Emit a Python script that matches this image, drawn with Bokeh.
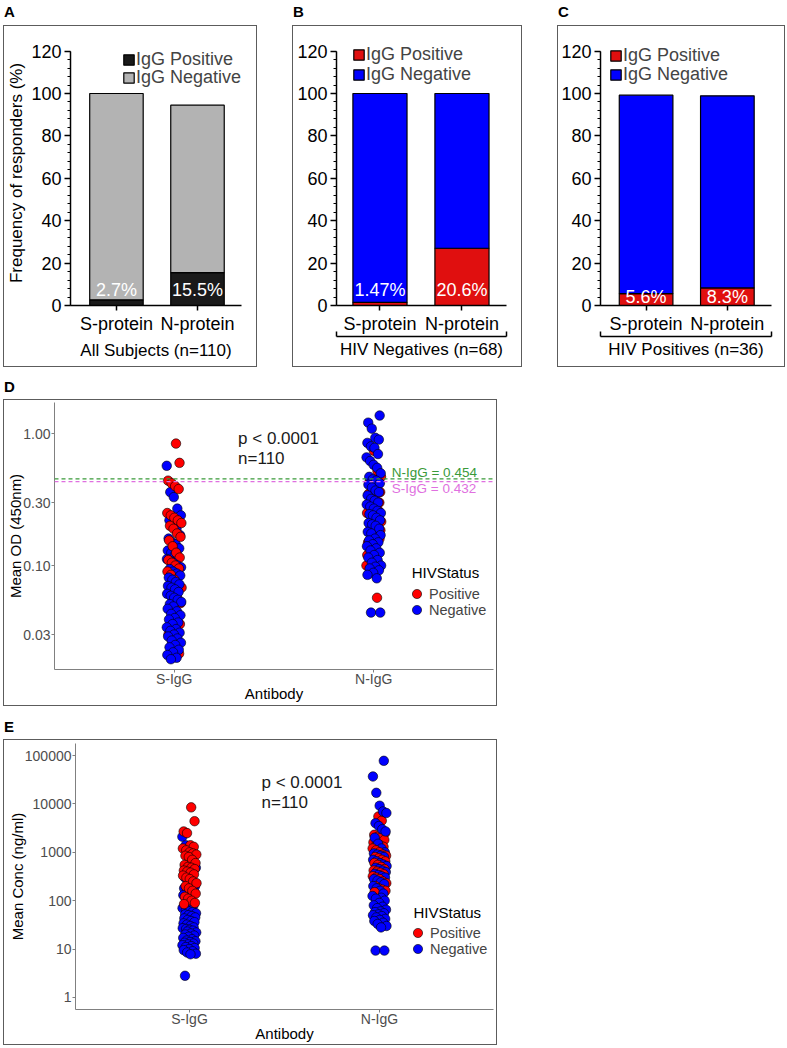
from bokeh.plotting import figure
from bokeh.models import (FixedTicker, SingleIntervalTicker, Legend, LegendItem, Label,
                          Span, LinearAxis, Div, ColumnDataSource, Range1d, Spacer)
from bokeh.layouts import row, column
from bokeh.core.properties import value
from bokeh.embed import file_html
from bokeh.resources import INLINE

FONT = "Liberation Sans"

# ---------------- data ----------------
proteins = ["S-protein", "N-protein"]
A_pos = [2.7, 15.5]
A_neg = [97.3, 79.0]
A_lbl = ["2.7%", "15.5%"]
B_pos = [1.47, 27.0]
B_neg = [98.53, 73.0]
B_lbl = ["1.47%", "20.6%"]
C_pos = [5.6, 8.3]
C_neg = [93.6, 90.6]
C_lbl = ["5.6%", "8.3%"]

antibodies = ["S-IgG", "N-IgG"]
# Panel D: mean OD (450nm)
D_S_pos = [0.84, 0.60, 0.44, 0.42, 0.40, 0.38, 0.25, 0.24, 0.23, 0.22, 0.21, 0.20, 0.19, 0.175,
           0.165, 0.155, 0.14, 0.125, 0.115, 0.11, 0.105, 0.10, 0.095, 0.09, 0.085, 0.078, 0.072,
           0.068, 0.064, 0.06, 0.057, 0.052, 0.048, 0.045, 0.04, 0.036, 0.03, 0.027, 0.024, 0.0215]
D_S_neg = [0.57, 0.36, 0.33, 0.27, 0.24, 0.22, 0.2, 0.19, 0.17, 0.16, 0.15, 0.145, 0.135, 0.13,
           0.125, 0.12, 0.115, 0.112, 0.108, 0.104, 0.1, 0.097, 0.094, 0.09, 0.087, 0.084, 0.081,
           0.078, 0.075, 0.072, 0.07, 0.068, 0.066, 0.063, 0.061, 0.059, 0.057, 0.055, 0.053,
           0.051, 0.049, 0.047, 0.045, 0.043, 0.042, 0.04, 0.039, 0.037, 0.036, 0.034, 0.033,
           0.032, 0.031, 0.03, 0.029, 0.028, 0.027, 0.026, 0.025, 0.024, 0.023, 0.022, 0.021,
           0.02, 0.0195]
D_N_pos = [0.74, 0.52, 0.47, 0.43, 0.40, 0.38, 0.36, 0.35, 0.33, 0.31, 0.30, 0.29, 0.28, 0.27,
           0.26, 0.25, 0.24, 0.23, 0.22, 0.215, 0.21, 0.2, 0.19, 0.185, 0.18, 0.17, 0.165, 0.16,
           0.15, 0.14, 0.13, 0.125, 0.12, 0.115, 0.11, 0.105, 0.10, 0.095, 0.09, 0.057]
D_N_neg = [1.37, 1.21, 1.09, 0.93, 0.9, 0.85, 0.8, 0.78, 0.7, 0.66, 0.62, 0.58, 0.55, 0.5, 0.47,
           0.45, 0.44, 0.42, 0.41, 0.39, 0.37, 0.36, 0.34, 0.32, 0.31, 0.3, 0.29, 0.28, 0.27,
           0.26, 0.25, 0.245, 0.24, 0.23, 0.22, 0.21, 0.205, 0.2, 0.19, 0.18, 0.175, 0.17, 0.16,
           0.155, 0.15, 0.145, 0.14, 0.135, 0.13, 0.125, 0.12, 0.115, 0.11, 0.105, 0.1, 0.098,
           0.095, 0.092, 0.088, 0.085, 0.08, 0.044, 0.044]
D_cut_N = 0.454
D_cut_S = 0.432

# Panel E: mean concentration (ng/ml)
E_S_pos = [8500, 4400, 2700, 2500, 1400, 1300, 1200, 1100, 1000, 950, 900, 850, 800, 700, 600,
           550, 500, 480, 450, 420, 400, 380, 350, 330, 300, 280, 250, 230, 200, 180, 160, 140,
           120, 110, 100, 90, 85]
E_S_neg = [2100, 1400, 520, 500, 480, 300, 260, 240, 200, 180, 170, 160, 150, 130, 120, 100, 80,
           70, 65, 60, 58, 55, 52, 50, 48, 45, 43, 40, 38, 36, 34, 32, 30, 28, 27, 26, 25, 24,
           23, 22, 21, 20, 19, 18, 17, 16, 15, 14.5, 14, 13.5, 13, 12.5, 12, 11.5, 11, 10.5, 10,
           9.5, 9, 8.5, 8, 7.8, 2.8]
E_N_pos = [5500, 4500, 2500, 2300, 2100, 2000, 1800, 1600, 1500, 1400, 1300, 1200, 1100, 1000,
           900, 850, 800, 750, 700, 650, 600, 550, 500, 450, 420, 400, 380, 350, 320, 300, 280,
           250, 230, 200, 180, 170, 160, 150, 45]
E_N_neg = [78000, 37000, 17000, 9200, 7000, 6500, 4000, 3500, 3000, 2700, 2000, 1500, 1200, 1000,
           950, 900, 850, 800, 700, 650, 600, 560, 520, 480, 450, 420, 390, 360, 340, 320, 300,
           280, 260, 240, 220, 200, 180, 160, 140, 125, 115, 110, 100, 90, 80, 75, 70, 65, 60,
           58, 55, 52, 50, 48, 45, 42, 40, 38, 35, 33, 30, 28, 9.3, 9.3]

BOX = {"border": "1.5px solid #5c5c5c"}
RED = "#ff0000"
BLUE = "#0000ff"


def panel_label(t, w, h, top):
    return Div(text=f'<div style="font: bold 15px {FONT}, Arial, sans-serif; line-height:15px; '
                    f'position:relative; top:{top}px; left:1px; color:black;">{t}</div>',
               width=w, height=h, margin=0)


def one_legend(label, rend, xy, gw, gh, lh, size, idx=None):
    item = LegendItem(label=label, renderers=[rend]) if idx is None else \
        LegendItem(label=label, renderers=[rend], index=idx)
    return Legend(items=[item], location=xy, background_fill_alpha=0,
                  border_line_color=None, padding=0, margin=0, spacing=0,
                  glyph_width=gw, glyph_height=gh, label_height=lh, label_standoff=1,
                  label_text_font=FONT, label_text_font_size=size)


def bar_panel(pos, neg, lbls, pos_col, neg_col, w, h, left, right, xstart, xend,
              leg_x, leg_y, lbl_y, ylabel=None, xlabel=None, bracket=None):
    p = figure(width=w, height=h, x_range=Range1d(xstart, xend), y_range=Range1d(0, 125),
               output_backend="svg", toolbar_location=None,
               min_border_left=left, min_border_right=right, min_border_top=14,
               min_border_bottom=63)
    p.styles = BOX
    p.xgrid.visible = False
    p.ygrid.visible = False
    p.outline_line_color = None
    src = ColumnDataSource(dict(x=[1, 2], pos=pos, tot=[a + b for a, b in zip(pos, neg)],
                                lbl=lbls, ly=[lbl_y, lbl_y]))
    rp = p.vbar(x="x", width=0.66, bottom=0, top="pos", source=src, fill_color=pos_col,
                line_color="black", line_width=1.2)
    rn = p.vbar(x="x", width=0.66, bottom="pos", top="tot", source=src, fill_color=neg_col,
                line_color="black", line_width=1.2)
    p.text(x="x", y="ly", text="lbl", source=src, text_color="white", text_align="center",
           text_baseline="middle", text_font=value(FONT), text_font_size="18px")

    ya = p.yaxis[0]
    ya.bounds = (0, 120)
    ya.ticker = SingleIntervalTicker(interval=20, num_minor_ticks=5)
    ya.major_tick_out = 6
    ya.major_tick_in = 0
    ya.minor_tick_out = 3
    ya.minor_tick_in = 0
    ya.axis_line_width = 1.5
    ya.major_tick_line_width = 1.5
    ya.minor_tick_line_width = 1.2
    ya.major_label_text_font = FONT
    ya.major_label_text_font_size = "18px"
    ya.major_label_text_color = "black"
    ya.major_label_standoff = 3
    if ylabel:
        ya.axis_label = ylabel
        ya.axis_label_text_font = FONT
        ya.axis_label_text_font_size = "17px"
        ya.axis_label_text_font_style = "normal"
        ya.axis_label_text_color = "black"
        ya.axis_label_standoff = 2

    xa = p.xaxis[0]
    xa.ticker = FixedTicker(ticks=[1, 2])
    xa.major_label_overrides = {1: proteins[0], 2: proteins[1]}
    xa.major_tick_out = 5
    xa.major_tick_in = 0
    xa.minor_tick_line_color = None
    xa.axis_line_width = 1.5
    xa.major_tick_line_width = 1.5
    xa.major_label_text_font = FONT
    xa.major_label_text_font_size = "18px"
    xa.major_label_text_color = "black"
    xa.major_label_standoff = 3
    if xlabel:
        xa.axis_label = xlabel
        xa.axis_label_text_font = FONT
        xa.axis_label_text_font_size = "17px"
        xa.axis_label_text_font_style = "normal"
        xa.axis_label_text_color = "black"
        xa.axis_label_standoff = 4
    if bracket:
        br = LinearAxis(ticker=FixedTicker(ticks=[], minor_ticks=[xstart, xend]),
                        axis_label=bracket, major_tick_line_color=None,
                        minor_tick_in=5, minor_tick_out=0, minor_tick_line_width=1.5,
                        axis_line_width=1.5, axis_label_text_font=FONT,
                        axis_label_text_font_size="17px", axis_label_text_color="black",
                        axis_label_text_font_style="normal", axis_label_standoff=3)
        p.add_layout(br, "below")

    p.add_layout(one_legend("IgG Positive", rp, (leg_x, leg_y[0]), 13, 13, 13, "18px"))
    p.add_layout(one_legend("IgG Negative", rn, (leg_x, leg_y[1]), 13, 13, 13, "18px"))
    return p


pA = bar_panel(A_pos, A_neg, A_lbl, "#1a1a1a", "#b3b3b3", 254, 342, 64, 17, 0.433, 2.543,
               52, (235, 217), 7.1, ylabel="Frequency of responders (%)",
               xlabel="All Subjects (n=110)")
pB = bar_panel(B_pos, B_neg, B_lbl, "#e00f0f", BLUE, 230, 342, 43, 17, 0.470, 2.543,
               16, (240, 220), 7.1, bracket="HIV Negatives (n=68)")
pC = bar_panel(C_pos, C_neg, C_lbl, "#e00f0f", BLUE, 228, 342, 40, 15, 0.439, 2.543,
               9, (239, 220), 3.8, bracket="HIV Positives (n=36)")


def interleave(neg, pos):
    ys, cs = [], []
    for i in range(max(len(neg), len(pos))):
        if i < len(neg):
            ys.append(neg[i]); cs.append(BLUE)
        if i < len(pos):
            ys.append(pos[i]); cs.append(RED)
    return ys, cs


def dot_panel(S_neg, S_pos, N_neg, N_pos, w, h, left, top, bottom, yr, ticks, tick_lbls,
              ylabel, ptxt, ntxt, hiv_xy, leg_x, leg_y):
    p = figure(width=w, height=h, x_range=Range1d(0.4, 2.6), y_range=Range1d(*yr),
               y_axis_type="log", output_backend="svg", toolbar_location=None,
               min_border_left=left, min_border_right=5, min_border_top=top,
               min_border_bottom=bottom)
    p.styles = BOX
    p.xgrid.visible = False
    p.ygrid.visible = False
    p.outline_line_color = None
    xs, ys, cs = [], [], []
    k = 0
    for xc, neg, pos in ((1, S_neg, S_pos), (2, N_neg, N_pos)):
        yv, cv = interleave(neg, pos)
        for yy, cc in zip(yv, cv):
            off = ((k * 0.6180339887) % 1.0 - 0.5) * 0.075
            xs.append(xc + off); ys.append(yy); cs.append(cc)
            k += 1
    src = ColumnDataSource(dict(x=xs, y=ys, c=cs))
    r = p.scatter(x="x", y="y", source=src, size=9.5, fill_color="c", line_color="black",
                  line_width=0.6)

    for ax in (p.xaxis[0], p.yaxis[0]):
        ax.axis_line_color = "#808080"
        ax.axis_line_width = 1
        ax.major_tick_line_color = "#808080"
        ax.major_tick_out = 3
        ax.major_tick_in = 0
        ax.minor_tick_line_color = None
        ax.major_label_text_font = FONT
        ax.major_label_text_font_size = "14px"
        ax.major_label_text_color = "#4d4d4d"
        ax.major_label_text_line_height = 1.0
        ax.axis_label_text_font = FONT
        ax.axis_label_text_font_size = "15px"
        ax.axis_label_text_font_style = "normal"
        ax.axis_label_text_color = "black"
        ax.axis_label_text_line_height = 1.0
    p.xaxis[0].major_label_standoff = -2
    p.xaxis[0].axis_label_standoff = -5
    p.yaxis[0].major_label_standoff = 1
    p.yaxis[0].axis_label_standoff = -4
    p.xaxis[0].ticker = FixedTicker(ticks=[1, 2])
    p.xaxis[0].major_label_overrides = {1: antibodies[0], 2: antibodies[1]}
    p.xaxis[0].axis_label = "Antibody"
    p.yaxis[0].ticker = FixedTicker(ticks=ticks)
    p.yaxis[0].major_label_overrides = dict(zip(ticks, tick_lbls))
    p.yaxis[0].axis_label = ylabel

    p.add_layout(Label(x=ptxt[0], y=ptxt[1], text="p < 0.0001", text_font=FONT,
                       text_font_size="17px", text_color="#1a1a1a", text_baseline="middle"))
    p.add_layout(Label(x=ntxt[0], y=ntxt[1], text="n=110", text_font=FONT,
                       text_font_size="17px", text_color="#1a1a1a", text_baseline="middle"))
    p.add_layout(Label(x=hiv_xy[0], y=hiv_xy[1], text="HIVStatus", text_font=FONT,
                       text_font_size="15px", text_color="black", text_baseline="middle"))
    i_pos = cs.index(RED)
    i_neg = cs.index(BLUE)
    p.add_layout(one_legend("Positive", r, (leg_x, leg_y[0]), 23, 23, 23, "14.5px", i_pos))
    p.add_layout(one_legend("Negative", r, (leg_x, leg_y[1]), 23, 23, 23, "14.5px", i_neg))
    return p


pD = dot_panel(D_S_neg, D_S_pos, D_N_neg, D_N_pos, 494, 307, 49, 2, 38, (0.0163, 1.72),
               [0.03, 0.1, 0.3, 1.0], ["0.03", "0.10", "0.30", "1.00"], "Mean OD (450nm)",
               (1.32, 0.92), (1.32, 0.65), (2.19, 0.0884), 351, (64, 48))
greenc = "#3a9a3a"
violetc = "#e070e0"
pD.add_layout(Span(location=D_cut_N, dimension="width", line_color=greenc, line_dash="4 3",
                   line_width=1.3))
pD.add_layout(Span(location=D_cut_S, dimension="width", line_color=violetc, line_dash="4 3",
                   line_width=1.3))
pD.add_layout(Label(x=2.09, y=0.507, text=f"N-IgG = {D_cut_N}", text_font=FONT,
                    text_font_size="13.5px", text_color=greenc, text_baseline="middle"))
pD.add_layout(Label(x=2.09, y=0.383, text=f"S-IgG = {D_cut_S}", text_font=FONT,
                    text_font_size="13.5px", text_color=violetc, text_baseline="middle"))

pE = dot_panel(E_S_neg, E_S_pos, E_N_neg, E_N_pos, 494, 306, 71, 3, 37,
               (10 ** -0.25, 10 ** 5.25), [1, 10, 100, 1000, 10000, 100000],
               ["1", "10", "100", "1000", "10000", "100000"], "Mean Conc (ng/ml)",
               (1.379, 27800), (1.379, 10700), (2.179, 57), 331, (65, 49))

top_row = row(
    column(panel_label("A", 254, 25, 4), pA, spacing=0),
    column(panel_label("B", 230, 25, 4), pB, spacing=0),
    column(panel_label("C", 228, 25, 4), pC, spacing=0),
    spacing=35)
body = column(top_row,
              column(panel_label("D", 494, 32, 12), pD, spacing=0),
              column(panel_label("E", 494, 33, 13), pE, spacing=0),
              spacing=0)
layout = row(Spacer(width=3, height=10), body, spacing=0)

open("out.html", "w").write(file_html(layout, INLINE))
